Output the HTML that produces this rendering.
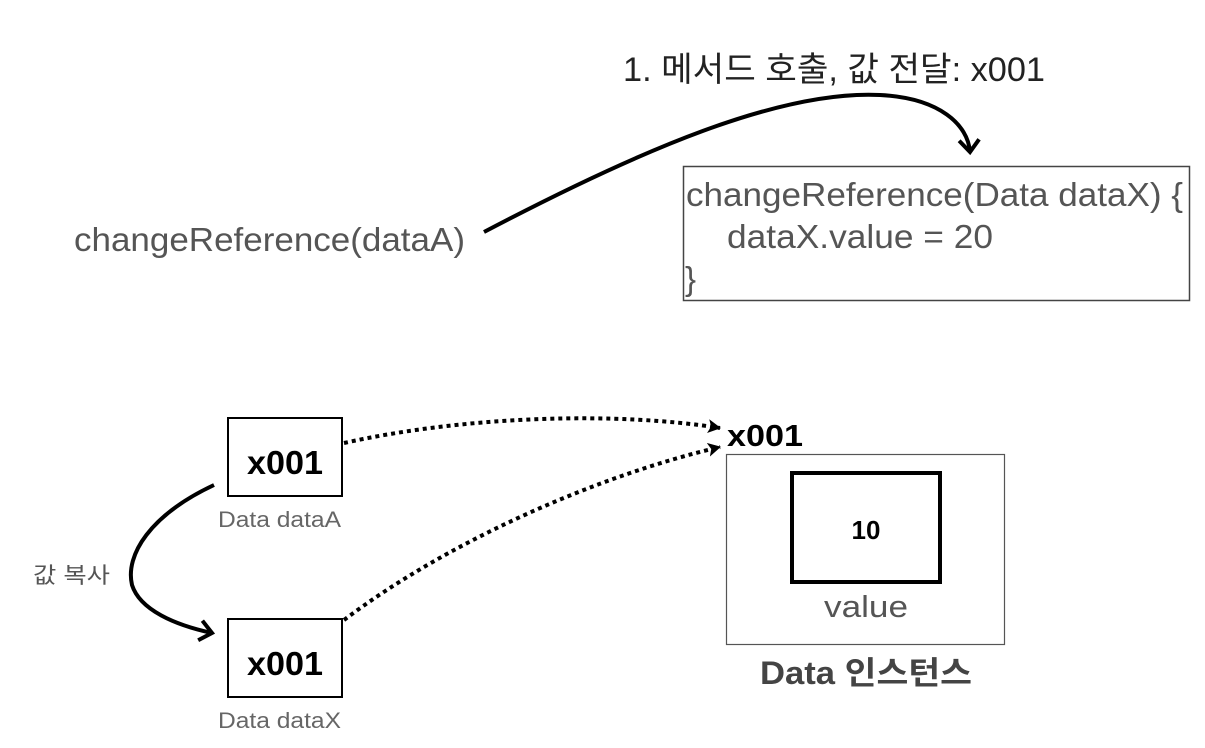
<!DOCTYPE html>
<html><head><meta charset="utf-8"><style>
html,body{margin:0;padding:0;background:#fff;width:1205px;height:748px;overflow:hidden}
svg{display:block}
text{font-family:"Liberation Sans","Noto Sans CJK KR",sans-serif}
</style></head><body>
<svg width="1205" height="748" viewBox="0 0 1205 748" xmlns="http://www.w3.org/2000/svg">
<defs>
<marker id="ah" markerWidth="20" markerHeight="24" refX="14" refY="12" orient="auto" markerUnits="userSpaceOnUse">
<path d="M2,2 L14,12 L2,22" fill="none" stroke="#000" stroke-width="4"/>
</marker>
<marker id="ah2" markerWidth="14" markerHeight="14" refX="12" refY="7" orient="auto" markerUnits="userSpaceOnUse">
<path d="M0,0 L13,7 L0,14 L3,7 Z" fill="#000"/>
</marker>
</defs>
<!-- top -->
<text x="623" y="81" font-size="34" fill="#222" textLength="422" lengthAdjust="spacingAndGlyphs">1. 메서드 호출, 값 전달: x001</text>
<path d="M484,232 C640,150 780,90 880,95 C940,98 968,125 970,152" fill="none" stroke="#000" stroke-width="4" marker-end="url(#ah)"/>
<text x="74" y="251" font-size="33" fill="#555" textLength="391" lengthAdjust="spacingAndGlyphs">changeReference(dataA)</text>
<rect x="683.5" y="166.5" width="506" height="134" fill="none" stroke="#444" stroke-width="1.5"/>
<text x="686" y="206" font-size="33" fill="#555" textLength="497" lengthAdjust="spacingAndGlyphs">changeReference(Data dataX) {</text>
<text x="727" y="248" font-size="33" fill="#555" textLength="266" lengthAdjust="spacingAndGlyphs">dataX.value = 20</text>
<text x="685" y="290" font-size="33" fill="#555">}</text>
<!-- boxes -->
<rect x="228" y="418" width="114" height="78" fill="none" stroke="#000" stroke-width="2"/>
<text x="285" y="474" font-size="33" font-weight="bold" text-anchor="middle" fill="#000" textLength="76" lengthAdjust="spacingAndGlyphs">x001</text>
<text x="218" y="527" font-size="22" fill="#666" textLength="123" lengthAdjust="spacingAndGlyphs">Data dataA</text>
<rect x="228" y="619" width="114" height="78" fill="none" stroke="#000" stroke-width="2"/>
<text x="285" y="675" font-size="33" font-weight="bold" text-anchor="middle" fill="#000" textLength="76" lengthAdjust="spacingAndGlyphs">x001</text>
<text x="218" y="728" font-size="22" fill="#666" textLength="123" lengthAdjust="spacingAndGlyphs">Data dataX</text>
<text x="33" y="583" font-size="22" fill="#555" textLength="77" lengthAdjust="spacingAndGlyphs">값 복사</text>
<path d="M214,485 C150,515 125,555 132,585 C140,610 175,625 212,633" fill="none" stroke="#000" stroke-width="4" marker-end="url(#ah)"/>
<!-- dotted -->
<path d="M344,443 C470,415 620,412 720,428" fill="none" stroke="#000" stroke-width="4" stroke-dasharray="4,4" marker-end="url(#ah2)"/>
<path d="M344,620 C450,540 600,475 720,447" fill="none" stroke="#000" stroke-width="4" stroke-dasharray="4,4" marker-end="url(#ah2)"/>
<!-- instance -->
<text x="727" y="446" font-size="31" font-weight="bold" fill="#000" textLength="76" lengthAdjust="spacingAndGlyphs">x001</text>
<rect x="726.5" y="454.5" width="278" height="190" fill="none" stroke="#555" stroke-width="1.2"/>
<rect x="792" y="473" width="148" height="109" fill="none" stroke="#000" stroke-width="4"/>
<text x="866" y="539" font-size="26" font-weight="bold" text-anchor="middle" fill="#000">10</text>
<text x="866" y="617" font-size="31" text-anchor="middle" fill="#555" textLength="84" lengthAdjust="spacingAndGlyphs">value</text>
<text x="866" y="684" font-size="32" font-weight="bold" text-anchor="middle" fill="#444" textLength="212" lengthAdjust="spacingAndGlyphs">Data 인스턴스</text>
</svg>
</body></html>
